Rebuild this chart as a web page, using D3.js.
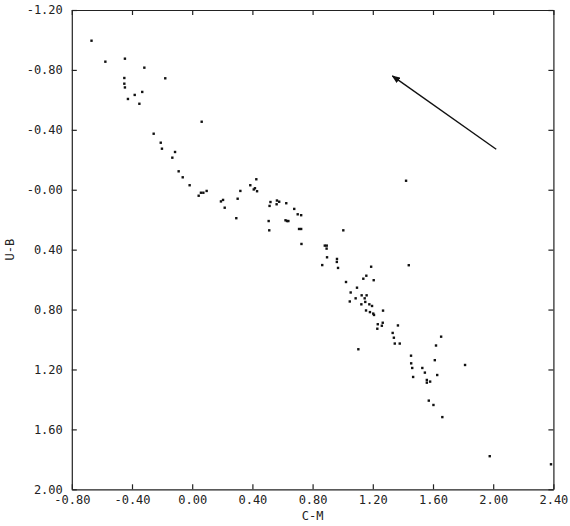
<!DOCTYPE html>
<html>
<head>
<meta charset="utf-8">
<script src="https://cdn.jsdelivr.net/npm/d3@7"></script>
<style>
  html, body { margin: 0; padding: 0; background: #fff; }
  svg { display: block; }
  .axis text { font-family: 'DejaVu Sans Mono', monospace; font-size: 12px; fill: #222; }
  .axis path, .axis line { stroke: #222; stroke-width: 1.2; }
  .title { font-family: 'DejaVu Sans Mono', monospace; font-size: 12px; fill: #222; }
</style>
</head>
<body>
<div id="chart"></div>
<script>
// Data
const cm = [
  -0.669, -0.577, -0.447, -0.318, -0.179, -0.451, -0.451, -0.447, -0.332, -0.382,
  -0.427, -0.351, -0.256, -0.209, -0.201, -0.114, -0.132, 0.063, -0.090, -0.063,
  -0.017, 0.043, 0.058, 0.074, 0.096, 0.191, 0.205, 0.216, 0.293, 0.302,
  0.320, 0.386, 0.409, 0.417, 0.426, 0.431, 0.520, 0.514, 0.508, 0.512,
  0.563, 0.578, 0.561, 0.625, 0.678, 0.701, 0.724, 0.620, 0.630, 0.639,
  0.710, 0.724, 0.726, 1.004, 0.881, 0.894, 0.893, 0.896, 0.962, 0.961,
  0.864, 0.969, 1.189, 1.439, 1.157, 1.137, 1.206, 1.022, 1.095, 1.053,
  1.126, 1.159, 1.086, 1.146, 1.047, 1.150, 1.124, 1.177, 1.195, 1.155,
  1.181, 1.203, 1.208, 1.268, 1.233, 1.266, 1.260, 1.367, 1.230, 1.332,
  1.340, 1.346, 1.379, 1.104, 1.654, 1.620, 1.454, 1.455, 1.462, 1.529,
  1.612, 1.628, 1.546, 1.468, 1.559, 1.559, 1.581, 1.813, 1.572, 1.603,
  1.662, 1.977, 2.384, 1.421
];
const ub = [
  -0.995, -0.855, -0.875, -0.815, -0.744, -0.746, -0.708, -0.683, -0.653, -0.633,
  -0.606, -0.574, -0.374, -0.314, -0.274, -0.252, -0.214, -0.454, -0.123, -0.083,
  -0.030, 0.040, 0.020, 0.020, 0.008, 0.078, 0.068, 0.120, 0.190, 0.060,
  0.008, -0.030, -0.002, -0.010, -0.070, 0.010, 0.082, 0.108, 0.209, 0.271,
  0.072, 0.080, 0.097, 0.090, 0.128, 0.164, 0.170, 0.204, 0.209, 0.209,
  0.262, 0.262, 0.362, 0.271, 0.373, 0.373, 0.393, 0.451, 0.462, 0.482,
  0.503, 0.522, 0.514, 0.504, 0.574, 0.594, 0.604, 0.616, 0.654, 0.686,
  0.705, 0.705, 0.725, 0.725, 0.746, 0.749, 0.765, 0.765, 0.776, 0.806,
  0.817, 0.827, 0.836, 0.807, 0.898, 0.888, 0.908, 0.906, 0.928, 0.956,
  0.988, 1.027, 1.027, 1.065, 0.981, 1.040, 1.108, 1.159, 1.190, 1.190,
  1.138, 1.237, 1.221, 1.250, 1.270, 1.288, 1.281, 1.170, 1.408, 1.437,
  1.518, 1.779, 1.833, -0.060
];
const xTicks = [-0.8, -0.4, 0.0, 0.4, 0.8, 1.2, 1.6, 2.0, 2.4];
const xTickLabels = ['-0.80', '-0.40', '0.00', '0.40', '0.80', '1.20', '1.60', '2.00', '2.40'];
const yTicks = [-1.2, -0.8, -0.4, 0.0, 0.4, 0.8, 1.2, 1.6, 2.0];
const yTickLabels = ['-1.20', '-0.80', '-0.40', '-0.00', '0.40', '0.80', '1.20', '1.60', '2.00'];
const arrowFrom = [2.02, -0.27];
const arrowTo = [1.33, -0.76];

const width = 570;
const height = 526;
const margin = { top: 10, right: 16.6, bottom: 36.7, left: 71.8 };

const svg = d3.select('#chart')
  .append('svg')
  .attr('width', width)
  .attr('height', height);

const x = d3.scaleLinear()
  .domain([-0.8, 2.4])
  .range([margin.left, width - margin.right]);

const y = d3.scaleLinear()
  .domain([-1.2, 2.0])
  .range([margin.top, height - margin.bottom]);

// Axes (ticks point inward on all four sides)
svg.append('g')
  .attr('class', 'axis')
  .attr('transform', `translate(0, ${y(2.0)})`)
  .call(d3.axisBottom(x).tickValues(xTicks).tickSize(-5).tickSizeOuter(0).tickPadding(6)
    .tickFormat((d, i) => xTickLabels[i]));

svg.append('g')
  .attr('class', 'axis')
  .attr('transform', `translate(0, ${y(-1.2)})`)
  .call(d3.axisTop(x).tickValues(xTicks).tickSize(-5).tickSizeOuter(0).tickFormat(''));

svg.append('g')
  .attr('class', 'axis')
  .attr('transform', `translate(${x(-0.8)}, 0)`)
  .call(d3.axisLeft(y).tickValues(yTicks).tickSize(-5).tickSizeOuter(0).tickPadding(9)
    .tickFormat((d, i) => yTickLabels[i]));

svg.append('g')
  .attr('class', 'axis')
  .attr('transform', `translate(${x(2.4)}, 0)`)
  .call(d3.axisRight(y).tickValues(yTicks).tickSize(-5).tickSizeOuter(0).tickFormat(''));

// Axis titles
svg.append('text')
  .attr('class', 'title')
  .attr('x', (x(-0.8) + x(2.4)) / 2)
  .attr('y', 520)
  .attr('text-anchor', 'middle')
  .text('C-M');

svg.append('text')
  .attr('class', 'title')
  .attr('transform', `translate(14, ${(y(-1.2) + y(2.0)) / 2}) rotate(-90)`)
  .attr('text-anchor', 'middle')
  .text('U-B');

// Points
svg.append('g')
  .selectAll('rect')
  .data(cm.map((d, i) => [d, ub[i]]))
  .enter()
  .append('rect')
  .attr('x', (d) => x(d[0]) - 1.2)
  .attr('y', (d) => y(d[1]) - 1.2)
  .attr('width', 2.4)
  .attr('height', 2.4)
  .attr('fill', '#111');

// Reddening arrow
svg.append('defs')
  .append('marker')
  .attr('id', 'head')
  .attr('viewBox', '0 0 10 10')
  .attr('refX', 9)
  .attr('refY', 5)
  .attr('markerWidth', 6)
  .attr('markerHeight', 6)
  .attr('orient', 'auto')
  .append('path')
  .attr('d', 'M0,1 L10,5 L0,9 Z')
  .attr('fill', '#111');

svg.append('line')
  .attr('x1', x(arrowFrom[0]))
  .attr('y1', y(arrowFrom[1]))
  .attr('x2', x(arrowTo[0]))
  .attr('y2', y(arrowTo[1]))
  .attr('stroke', '#111')
  .attr('stroke-width', 1.4)
  .attr('marker-end', 'url(#head)');
</script>
</body>
</html>
